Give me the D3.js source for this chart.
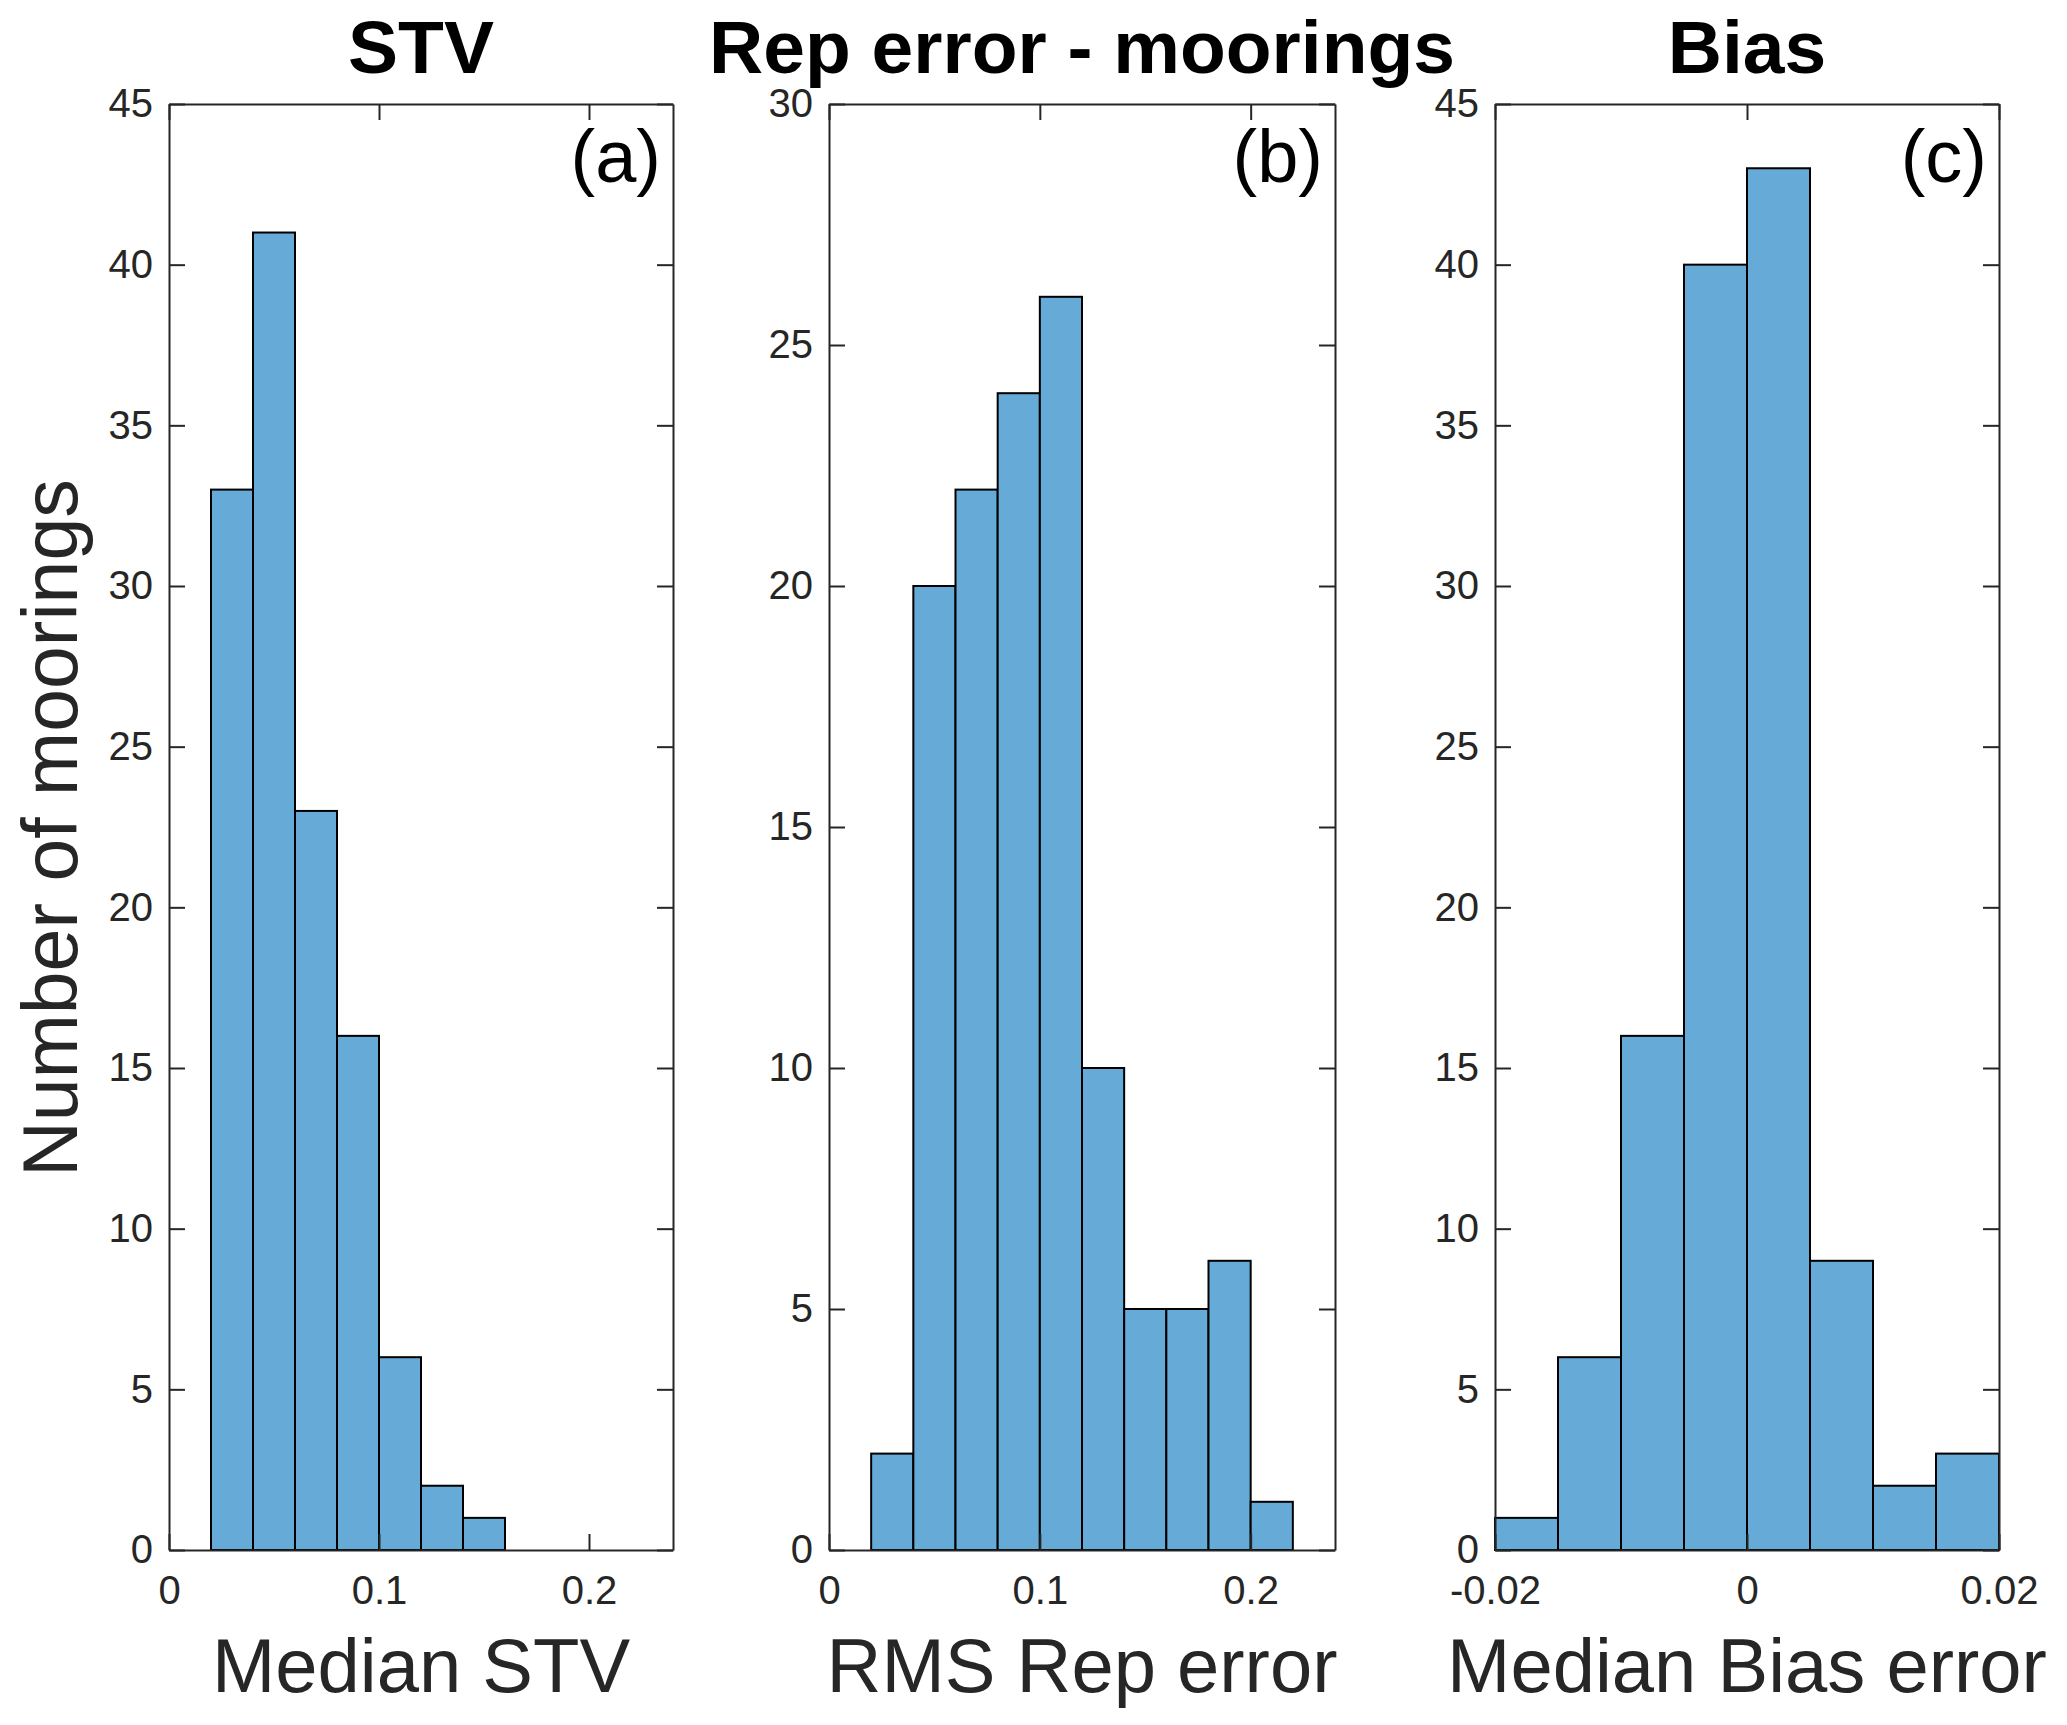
<!DOCTYPE html>
<html>
<head>
<meta charset="utf-8">
<script src="https://cdn.jsdelivr.net/npm/d3@7"></script>
<style>
  html, body { margin: 0; padding: 0; background: #fff; }
  text { font-family: "Liberation Sans", Arial, Helvetica, sans-serif; }
</style>
</head>
<body>
<svg id="chart" width="2067" height="1725"></svg>
<script>
// ---- data ----
const stvEdges = [0.02, 0.04, 0.06, 0.08, 0.10, 0.12, 0.14, 0.16];
const stvCounts = [33, 41, 23, 16, 6, 2, 1];

const repEdges = [0.02, 0.04, 0.06, 0.08, 0.10, 0.12, 0.14, 0.16, 0.18, 0.20, 0.22];
const repCounts = [2, 20, 22, 24, 26, 10, 5, 5, 6, 1];

const biasEdges = [-0.02, -0.015, -0.01, -0.005, 0, 0.005, 0.01, 0.015, 0.02];
const biasCounts = [1, 6, 16, 40, 43, 9, 2, 3];

const titles = ["STV", "Rep error - moorings", "Bias"];
const xLabels = ["Median STV", "RMS Rep error", "Median Bias error"];
const panelTags = ["(a)", "(b)", "(c)"];
const yLabel = "Number of moorings";

const xTicksA = [0, 0.1, 0.2];
const xTicksB = [0, 0.1, 0.2];
const xTicksC = [-0.02, 0, 0.02];
const yTicks45 = [0, 5, 10, 15, 20, 25, 30, 35, 40, 45];
const yTicks30 = [0, 5, 10, 15, 20, 25, 30];

// ---- layout ----
const svg = d3.select("#chart");
const plotTop = 104, plotBottom = 1550;
const panels = [
  { x0: 169, x1: 673, xDomain: [0, 0.24], yMax: 45, edges: stvEdges, counts: stvCounts, xTicks: xTicksA, yTicks: yTicks45 },
  { x0: 829, x1: 1335, xDomain: [0, 0.24], yMax: 30, edges: repEdges, counts: repCounts, xTicks: xTicksB, yTicks: yTicks30 },
  { x0: 1495, x1: 1999, xDomain: [-0.02, 0.02], yMax: 45, edges: biasEdges, counts: biasCounts, xTicks: xTicksC, yTicks: yTicks45 }
];

const axisColor = "#262626";
const barFill = "#66aad7";
const tickLen = 16;
const fmt = v => (v === 0 ? "0" : String(+v.toFixed(3)));

panels.forEach((p, i) => {
  const x = d3.scaleLinear().domain(p.xDomain).range([p.x0, p.x1]);
  const y = d3.scaleLinear().domain([0, p.yMax]).range([plotBottom, plotTop]);
  const g = svg.append("g");

  const bins = p.counts.map((c, k) => ({ a: p.edges[k], b: p.edges[k + 1], c }));
  g.selectAll("rect.bar").data(bins).enter().append("rect")
    .attr("class", "bar")
    .attr("x", d => x(d.a))
    .attr("y", d => y(d.c))
    .attr("width", d => x(d.b) - x(d.a))
    .attr("height", d => y(0) - y(d.c))
    .attr("fill", barFill)
    .attr("stroke", "#000")
    .attr("stroke-width", 2);

  const fs = 40;
  const left = d3.axisLeft(y).tickValues(p.yTicks).tickSizeInner(-tickLen).tickSizeOuter(0).tickPadding(16).tickFormat(fmt);
  const right = d3.axisRight(y).tickValues(p.yTicks).tickSizeInner(-tickLen).tickSizeOuter(0).tickFormat("");
  const bot = d3.axisBottom(x).tickValues(p.xTicks).tickSizeInner(-tickLen).tickSizeOuter(0).tickPadding(26).tickFormat(fmt);
  const tp = d3.axisTop(x).tickValues(p.xTicks).tickSizeInner(-tickLen).tickSizeOuter(0).tickFormat("");

  const styleAxis = sel => {
    sel.selectAll("path.domain").attr("stroke", axisColor).attr("stroke-width", 2);
    sel.selectAll(".tick line").attr("stroke", axisColor).attr("stroke-width", 2);
    sel.selectAll(".tick text").attr("fill", axisColor).style("font-size", fs + "px")
      .style("font-family", '"Liberation Sans", Arial, sans-serif');
  };
  g.append("g").attr("transform", `translate(${p.x0},0)`).call(left).call(styleAxis);
  g.append("g").attr("transform", `translate(${p.x1},0)`).call(right).call(styleAxis);
  g.append("g").attr("transform", `translate(0,${plotBottom})`).call(bot).call(styleAxis);
  g.append("g").attr("transform", `translate(0,${plotTop})`).call(tp).call(styleAxis);

  svg.append("text")
    .attr("x", (p.x0 + p.x1) / 2).attr("y", 73)
    .attr("text-anchor", "middle")
    .style("font-size", "75px").style("font-weight", "bold")
    .attr("fill", "#000")
    .text(titles[i]);

  svg.append("text")
    .attr("x", (p.x0 + p.x1) / 2).attr("y", 1692)
    .attr("text-anchor", "middle")
    .style("font-size", "76px")
    .attr("fill", axisColor)
    .text(xLabels[i]);

  svg.append("text")
    .attr("x", p.x1 - 12).attr("y", 182)
    .attr("text-anchor", "end")
    .style("font-size", "74px")
    .attr("fill", "#000")
    .text(panelTags[i]);
});

svg.append("text")
  .attr("transform", "translate(77,828) rotate(-90)")
  .attr("text-anchor", "middle")
  .style("font-size", "77px")
  .attr("fill", axisColor)
  .text(yLabel);
</script>
</body>
</html>
